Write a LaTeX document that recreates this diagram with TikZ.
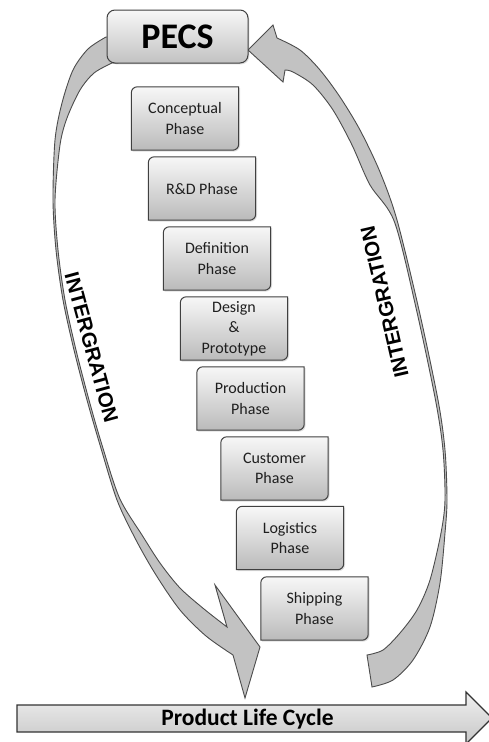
\documentclass[tikz,border=0pt]{standalone}
\usepackage{fontspec}
\setmainfont{Carlito}
\newfontfamily\intfont{Liberation Sans}
\usetikzlibrary{backgrounds,shadows}
\newcommand\phaseshape[1]{\path[phasebox] (#1.south west) [rounded corners=6pt] -- (#1.north west) [sharp corners] -- (#1.north east) [rounded corners=6pt] -- (#1.south east) [sharp corners] -- cycle;}
\begin{document}
\begin{tikzpicture}[x=1pt,y=-1pt,
  phasetext/.style={minimum width=107pt,minimum height=63pt,inner sep=0pt,align=center,
    font=\fontsize{16}{20.5}\selectfont,text=black!88},
  phasebox/.style={draw=black!75,line width=1pt,top color=black!3,bottom color=black!27,
    drop shadow={shadow xshift=1.3pt,shadow yshift=-1.3pt,opacity=0.25}},
  pecsbox/.style={draw=black!75,line width=1pt,rounded corners=8pt,top color=black!3,bottom color=black!24,
    minimum width=141pt,minimum height=53pt,inner sep=0pt,
    font=\bfseries\fontsize{36}{40}\selectfont,
    drop shadow={shadow xshift=1.3pt,shadow yshift=-1.3pt,opacity=0.25}},
  curvearrow/.style={fill=black!24,draw=black!70,line width=0.9pt,line join=miter},
  plcarrow/.style={draw=black!80,line width=1.2pt,top color=black!6,bottom color=black!22},
  inttext/.style={font=\intfont\bfseries\fontsize{20.5}{24}\selectfont,inner sep=0pt},
]
\useasboundingbox (0,0) rectangle (488,742);
\begin{scope}[on background layer]
\fill[white] (0,0) rectangle (488,742);
\end{scope}

% left curved arrow (PECS -> product life cycle)
\path[curvearrow] (118,37) -- plot[smooth] coordinates {(106,37) (88,49) (73,70) (62,103) (55,140) (53,200) (56,250) (63,300) (74,350) (87,400) (100,445) (117,500) (136,540) (156,575) (180,610) (206,636) (233,655)}
  -- (245,698) -- (260,647) -- (215,585)
  -- plot[smooth] coordinates {(227,627) (204,609) (180,588) (160,563) (142,535) (119.5,498) (102,445) (89,400) (76,350) (65,300) (58,250) (55,200) (60,145) (67,118) (80,90) (94,73) (112,63)}
  -- (118,63) -- cycle;

% right curved arrow (product life cycle -> PECS)
\path[curvearrow] plot[smooth] coordinates {(372,687) (393,680) (413,660) (430,627) (440,583) (445,533) (447,500) (445,450) (438,400) (419,310) (397,220) (380,172) (360,130) (340,97) (320,70) (300,50) (277,38)}
  -- (273,25) -- (248,50) -- (283,82)
  -- plot[smooth] coordinates {(285,70) (293,72) (313,85) (333,110) (352,145) (370,185) (394.5,222) (416.5,310) (435.5,400) (443,450) (445,500) (441,533) (430,580) (417,610) (400,633) (383,650) (367,655)}
  -- cycle;

% product life cycle arrow
\path[plcarrow] (17,705) -- (466,705) -- (466,692) -- (492,718) -- (466,744) -- (466,732) -- (17,732) -- cycle;
\node[font=\bfseries\fontsize{23.5}{26}\selectfont,inner sep=0pt] (plc) at (247.5,719) {Product Life Cycle};

% PECS
\node[pecsbox] (pecs) at (177.5,36.5) {PECS};

% phases
\node[phasetext] (p1) at (185,118.5) {Conceptual\\Phase};
\node[phasetext] (p2) at (202,188.5) {R\&D Phase};
\node[phasetext] (p3) at (217,258.5) {Definition\\Phase};
\node[phasetext] (p4) at (234,328.5) {Design\\\&\\Prototype};
\node[phasetext] (p5) at (250.5,398.5) {Production\\Phase};
\node[phasetext] (p6) at (274.5,468.5) {Customer\\Phase};
\node[phasetext] (p7) at (290,538) {Logistics\\Phase};
\node[phasetext] (p8) at (314.5,608.5) {Shipping\\Phase};
\begin{scope}[on background layer]
\foreach \n in {p1,p2,p3,p4,p5,p6,p7,p8} {\phaseshape{\n}}
\end{scope}

% labels
\node[inttext,rotate=-74.8] (intL) at (91.5,347.5) {INTERGRATION};
\node[inttext,rotate=103] (intR) at (384.5,302) {INTERGRATION};
\end{tikzpicture}
\end{document}
